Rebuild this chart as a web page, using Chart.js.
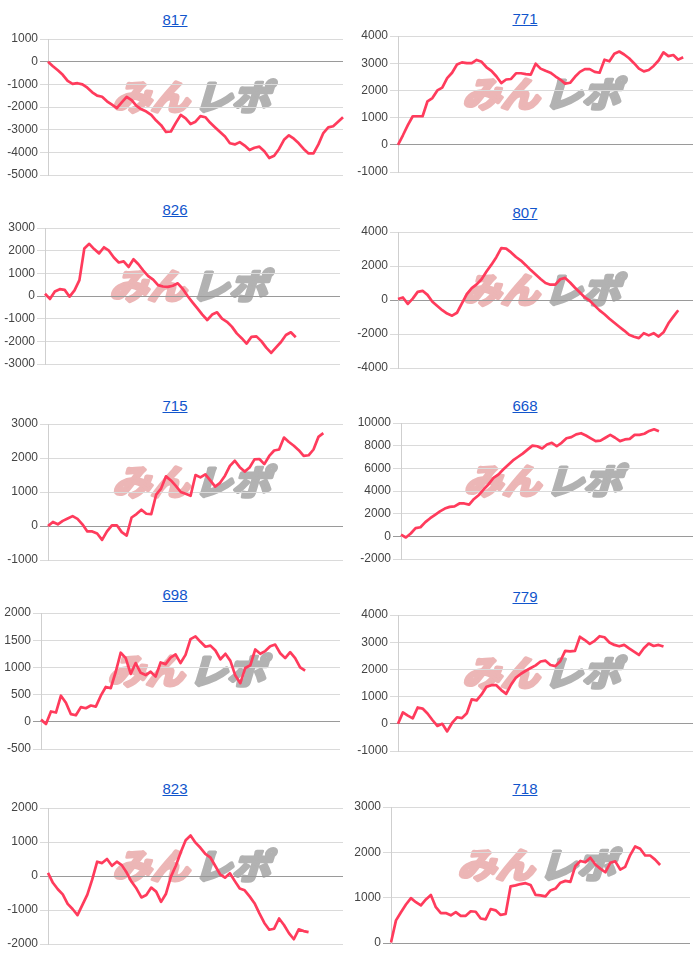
<!DOCTYPE html>
<html>
<head>
<meta charset="utf-8">
<script src="https://cdn.jsdelivr.net/npm/chart.js@4.4.1/dist/chart.umd.min.js"></script>
<style>
body { margin: 0; background: #fff; }
#wrap { position: relative; width: 700px; height: 965px; overflow: hidden; }
.panel { position: absolute; width: 350px; }
.ttl { position: absolute; width: 350px; text-align: center; font: 15px Arial, "Liberation Sans", sans-serif; line-height: 16px; }
.ttl a { color: #1155cc; text-decoration: underline; }
</style>
</head>
<body>
<div id="wrap"></div>
<script>
// chart titles (machine numbers)
var titles = ['817', '771', '826', '807', '715', '668', '698', '779', '823', '718'];

// cumulative values per machine
var s817 = [0,-200,-380,-580,-850,-980,-950,-1000,-1150,-1350,-1500,-1550,-1750,-1900,-2050,-1800,-1550,-1700,-1950,-2100,-2200,-2350,-2600,-2800,-3100,-3080,-2700,-2350,-2500,-2750,-2650,-2400,-2450,-2700,-2900,-3100,-3300,-3600,-3650,-3550,-3700,-3900,-3800,-3750,-3950,-4250,-4150,-3850,-3450,-3250,-3400,-3600,-3850,-4050,-4050,-3650,-3150,-2900,-2850,-2650,-2450];
var s771 = [0,350,720,1050,1050,1050,1600,1720,2000,2100,2450,2650,2950,3030,3000,3000,3120,3050,2850,2720,2520,2270,2400,2420,2630,2630,2600,2580,2980,2800,2720,2650,2520,2400,2250,2280,2500,2680,2780,2780,2680,2650,3130,3070,3350,3430,3320,3180,3000,2800,2700,2750,2900,3100,3400,3260,3300,3130,3220];
var s826 = [100,-130,200,300,270,-30,250,700,2100,2300,2070,1880,2150,2000,1700,1480,1530,1280,1620,1400,1120,880,720,480,420,400,450,560,320,0,-280,-550,-820,-1060,-820,-720,-1000,-1140,-1350,-1650,-1860,-2100,-1800,-1780,-1990,-2280,-2510,-2270,-2030,-1720,-1600,-1820];
var s807 = [60,150,-230,80,480,540,300,-100,-350,-600,-800,-920,-750,-200,350,700,920,1220,1680,2080,2520,3050,3020,2800,2530,2320,2050,1760,1500,1240,1000,900,900,1220,1300,1030,720,440,150,-40,-330,-610,-840,-1100,-1340,-1570,-1800,-2050,-2160,-2240,-1950,-2080,-1950,-2150,-1900,-1370,-980,-600];
var s715 = [0,120,50,150,220,290,210,50,-160,-160,-220,-410,-160,20,20,-180,-280,250,350,480,360,350,920,1100,1460,1340,1180,1000,950,890,1500,1430,1520,1340,1160,1270,1480,1770,1920,1730,1600,1720,1960,1970,1820,2060,2220,2250,2600,2470,2360,2230,2060,2080,2250,2620,2730];
var s668 = [150,-100,250,730,800,1250,1600,1900,2200,2450,2600,2650,2900,2900,2800,3300,3650,4150,4600,5150,5450,5900,6300,6700,7000,7300,7650,8000,7950,7750,8100,8250,7950,8250,8650,8750,9000,9100,8900,8650,8400,8450,8700,8950,8700,8400,8550,8600,8950,8950,9050,9300,9450,9270];
var s698 = [40,-40,190,170,480,350,140,120,270,250,300,280,480,640,620,920,1270,1170,880,1080,900,860,920,830,1090,1060,1180,1240,1080,1230,1520,1570,1470,1380,1400,1310,1150,1250,1120,850,710,990,1040,1330,1250,1300,1390,1420,1260,1170,1280,1170,1000,940];
var s779 = [0,420,300,200,600,560,380,140,-80,0,-280,30,240,210,390,900,860,1080,1360,1420,1420,1240,1100,1440,1700,1840,1950,2050,2150,2290,2320,2160,2120,2300,2680,2660,2680,3200,3080,2940,3050,3220,3180,2990,2900,2850,2900,2770,2650,2530,2780,2950,2860,2900,2840];
var s823 = [90,-200,-390,-540,-820,-970,-1150,-850,-550,-100,420,380,500,300,420,320,100,-170,-370,-630,-560,-340,-460,-760,-520,-20,300,700,1050,1190,980,830,650,550,300,50,-50,80,-150,-370,-420,-600,-800,-1100,-1380,-1580,-1550,-1250,-1440,-1680,-1860,-1570,-1620,-1650];
var s718 = [10,500,680,850,990,900,830,960,1060,790,660,660,610,680,600,600,700,690,540,520,750,720,620,640,1250,1270,1300,1320,1280,1060,1050,1030,1160,1200,1330,1370,1350,1700,1810,1780,1880,1730,1640,1560,1770,1800,1620,1680,1940,2130,2080,1930,1930,1840,1720];

var series = [s817, s771, s826, s807, s715, s668, s698, s779, s823, s718];

// y axis ranges
var yMin  = [-5000, -1000, -3000, -4000, -1000, -2000, -500, -1000, -2000, 0];
var yMax  = [1000, 4000, 3000, 4000, 3000, 10000, 2000, 4000, 2000, 3000];
var yStep = [1000, 1000, 1000, 2000, 1000, 2000, 500, 1000, 1000, 1000];

// x categories: 60 steps across every plot
var steps = [];
for (var i = 0; i <= 60; i++) steps.push(String(i));

// page layout of the panels
var plotTop   = [39, 36, 228, 232, 424, 423, 613, 615, 808, 807];
var titleMid  = [20, 19, 210, 213, 406, 406, 595, 597, 789, 789];
var axisLeft  = [48, 48, 45, 48, 48, 51, 41, 48, 48, 41];
var plotRight = [343, 343, 340, 343, 343, 343, 340, 343, 343, 340];
var plotH = 136, pad = 10;

Chart.defaults.font.family = 'Arial, "Liberation Sans", sans-serif';
Chart.defaults.font.size = 12;
Chart.defaults.color = '#444';

// faint site logo behind each plot
var watermark = {
  id: 'watermark',
  beforeDraw: function(chart) {
    var a = chart.chartArea, ctx = chart.ctx;
    var cx = (a.left + a.right) / 2, cy = (a.top + a.bottom) / 2 - 11;
    ctx.save();
    ctx.font = 'bold 35px "Noto Sans CJK JP", sans-serif';
    ctx.textBaseline = 'middle';
    ctx.lineJoin = 'round';
    ctx.lineWidth = 3.5;
    var w1 = ctx.measureText('みん').width;
    var w2 = ctx.measureText('レポ').width;
    var gap = 4, total = w1 + gap + w2;
    ctx.translate(cx, cy);
    ctx.transform(158 / total, 0, -0.3, 1, 0, 0);
    ctx.fillStyle = ctx.strokeStyle = '#ecb6b6';
    ctx.fillText('みん', -total / 2, 1);
    ctx.strokeText('みん', -total / 2, 1);
    ctx.fillStyle = ctx.strokeStyle = '#b2b2b2';
    ctx.fillText('レポ', -total / 2 + w1 + gap, 1);
    ctx.strokeText('レポ', -total / 2 + w1 + gap, 1);
    ctx.restore();
  }
};

var wrap = document.getElementById('wrap');

series.forEach(function(vals, k) {
  var col = k % 2;

  var t = document.createElement('div');
  t.className = 'ttl';
  t.style.left = (col * 350) + 'px';
  t.style.top = (titleMid[k] - 8) + 'px';
  t.innerHTML = '<a href="#">' + titles[k] + '</a>';
  wrap.appendChild(t);

  var p = document.createElement('div');
  p.className = 'panel';
  p.style.left = (col * 350) + 'px';
  p.style.top = (plotTop[k] - pad) + 'px';
  p.style.height = (plotH + 2 * pad) + 'px';
  var c = document.createElement('canvas');
  c.width = 350;
  c.height = plotH + 2 * pad;
  p.appendChild(c);
  wrap.appendChild(p);

  new Chart(c, {
    type: 'line',
    data: {
      labels: steps,
      datasets: [{
        data: vals,
        borderColor: '#ff3b5c',
        borderWidth: 2.7,
        pointRadius: 0,
        tension: 0,
        fill: false,
        borderJoinStyle: 'round'
      }]
    },
    options: {
      responsive: false,
      animation: false,
      layout: { padding: { top: pad, bottom: pad, left: 0, right: 350 - plotRight[k] } },
      plugins: { legend: { display: false }, tooltip: { enabled: false } },
      scales: {
        x: { display: false },
        y: {
          min: yMin[k],
          max: yMax[k],
          ticks: {
            stepSize: yStep[k],
            padding: 2,
            color: '#444',
            callback: function(v) { return String(v); }
          },
          grid: {
            tickLength: 8,
            color: function(ctx) { return ctx.tick && ctx.tick.value === 0 ? '#9a9a9a' : '#dadada'; }
          },
          border: { display: true, color: '#cfcfcf' },
          afterFit: (function(w) { return function(scale) { scale.width = w; }; })(axisLeft[k])
        }
      }
    },
    plugins: [watermark]
  });
});
</script>
</body>
</html>
